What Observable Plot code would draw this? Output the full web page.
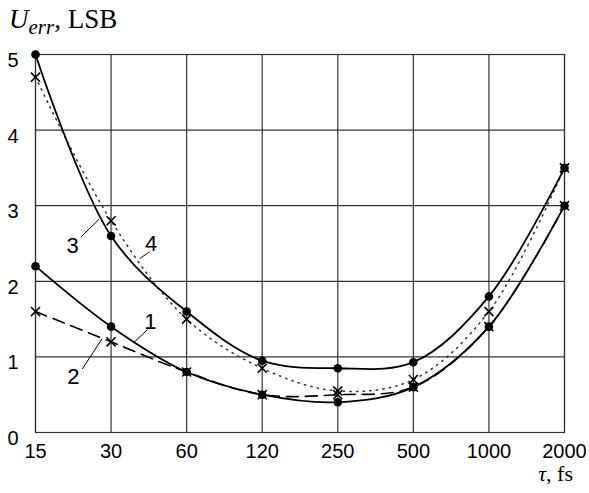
<!DOCTYPE html>
<html>
<head>
<meta charset="utf-8">
<script src="https://cdn.jsdelivr.net/npm/d3@7"></script>
<script src="https://cdn.jsdelivr.net/npm/@observablehq/plot@0.6"></script>
<style>
  html, body { margin: 0; padding: 0; background: #fff; }
</style>
</head>
<body>
<div id="chart"></div>
<script>
// Data
const taus = ["15", "30", "60", "120", "250", "500", "1000", "2000"];
const u1 = [2.2, 1.4, 0.8, 0.5, 0.4, 0.6, 1.4, 3.0];
const u2 = [1.6, 1.2, 0.8, 0.5, 0.5, 0.6, 1.4, 3.0];
const u3 = [5.0, 2.6, 1.6, 0.95, 0.85, 0.93, 1.8, 3.5];
const u4 = [4.7, 2.8, 1.5, 0.85, 0.55, 0.7, 1.6, 3.5];
const yTicks = [0, 1, 2, 3, 4, 5];

// Curve labels (position in data units: tau index, U) and leader lines
const labelNames = ["1", "2", "3", "4"];
const labelX = [1.52, 0.50, 0.49, 1.53];
const labelY = [1.46, 0.74, 2.47, 2.50];
const leadX1 = [1.30, 0.62, 0.605, 1.38];
const leadY1 = [1.19, 0.84, 2.59, 2.30];
const leadX2 = [1.48, 0.88, 0.84, 1.51];
const leadY2 = [1.36, 1.24, 2.82, 2.39];

const idx = d3.range(taus.length);
const s1 = idx.map(i => ({i, u: u1[i]}));
const s2 = idx.map(i => ({i, u: u2[i]}));
const s3 = idx.map(i => ({i, u: u3[i]}));
const s4 = idx.map(i => ({i, u: u4[i]}));
const labels = labelNames.map((t, k) => ({t, x: labelX[k], y: labelY[k]}));
const leaders = labelNames.map((t, k) => ({x1: leadX1[k], y1: leadY1[k], x2: leadX2[k], y2: leadY2[k]}));

const curve = "catmull-rom";
const svg = Plot.plot({
  width: 589,
  height: 493,
  marginLeft: 35,
  marginRight: 25,
  marginTop: 54,
  marginBottom: 61,
  style: {fontFamily: "'Liberation Sans', Arial, sans-serif", fontSize: "20px", color: "#000", background: "#fff"},
  x: {domain: [0, 7]},
  y: {domain: [0, 5]},
  marks: [
    Plot.gridX(idx, {stroke: "#333", strokeOpacity: 1, strokeWidth: 1.2}),
    Plot.gridY(yTicks, {stroke: "#333", strokeOpacity: 1, strokeWidth: 1.2}),
    Plot.frame({stroke: "#333", strokeWidth: 1.2}),
    Plot.axisX(idx, {tickFormat: i => taus[i], tickSize: 0, tickPadding: 11, fontSize: 20}),
    Plot.axisY(yTicks, {tickFormat: d => String(d), tickSize: 0, tickPadding: 17, dy: 6, fontSize: 20}),
    Plot.line(s4, {x: "i", y: "u", curve, stroke: "#333", strokeWidth: 1.5, strokeDasharray: "1.4,5.2"}),
    Plot.line(s2, {x: "i", y: "u", curve, stroke: "#000", strokeWidth: 1.6, strokeDasharray: "12,7"}),
    Plot.line(s1, {x: "i", y: "u", curve, stroke: "#000", strokeWidth: 1.8}),
    Plot.line(s3, {x: "i", y: "u", curve, stroke: "#000", strokeWidth: 1.8}),
    Plot.dot(s2, {x: "i", y: "u", symbol: "times", r: 4.2, stroke: "#000", strokeWidth: 1.6}),
    Plot.dot(s4, {x: "i", y: "u", symbol: "times", r: 4.2, stroke: "#000", strokeWidth: 1.6}),
    Plot.dot(s1, {x: "i", y: "u", r: 4.3, fill: "#000", stroke: "none"}),
    Plot.dot(s3, {x: "i", y: "u", r: 4.3, fill: "#000", stroke: "none"}),
    Plot.link(leaders, {x1: "x1", y1: "y1", x2: "x2", y2: "y2", stroke: "#000", strokeWidth: 1}),
    Plot.text(labels, {x: "x", y: "y", text: "t", fontSize: 22, fill: "#000"})
  ]
});

const s = d3.select(svg);
// y-axis title
const yt = s.append("text")
  .attr("x", 9).attr("y", 28).attr("text-anchor", "start")
  .attr("font-family", "'Liberation Serif', 'Times New Roman', serif")
  .attr("font-size", 27).attr("fill", "#000");
yt.append("tspan").attr("font-style", "italic").text("U");
yt.append("tspan").attr("font-style", "italic").attr("font-size", 21).attr("dy", 6).text("err");
yt.append("tspan").attr("dy", -6).text(", LSB");

// x-axis title
const xt = s.append("text")
  .attr("x", 573).attr("y", 481).attr("text-anchor", "end")
  .attr("font-family", "'Liberation Serif', 'Times New Roman', serif")
  .attr("font-size", 22).attr("fill", "#000");
xt.append("tspan").attr("font-style", "italic").text("τ");
xt.append("tspan").text(", fs");

document.getElementById("chart").appendChild(svg);
</script>
</body>
</html>
